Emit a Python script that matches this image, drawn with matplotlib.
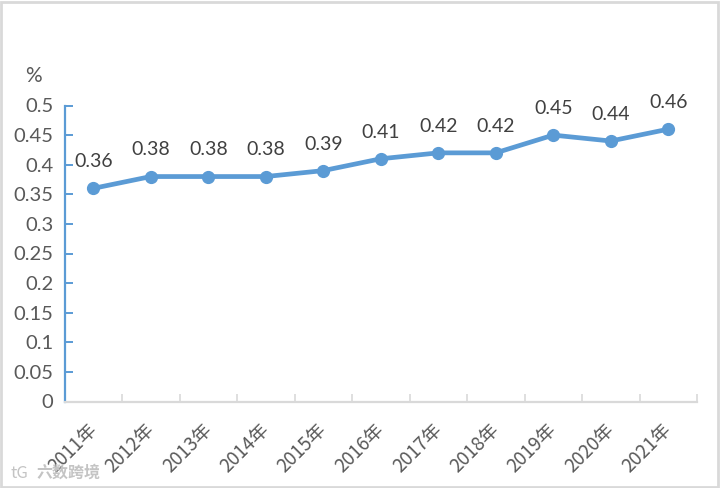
import matplotlib
matplotlib.use('Agg')
import matplotlib.pyplot as plt
from matplotlib.patches import Rectangle

plt.rcParams['font.family'] = ['Noto Sans CJK SC', 'DejaVu Sans']

years = ['2011年', '2012年', '2013年', '2014年', '2015年', '2016年',
         '2017年', '2018年', '2019年', '2020年', '2021年']
values = [0.36, 0.38, 0.38, 0.38, 0.39, 0.41, 0.42, 0.42, 0.45, 0.44, 0.46]
yticks = [0, 0.05, 0.1, 0.15, 0.2, 0.25, 0.3, 0.35, 0.4, 0.45, 0.5]
ylabels = ['0', '0.05', '0.1', '0.15', '0.2', '0.25', '0.3', '0.35', '0.4', '0.45', '0.5']

BLUE = '#5B9BD5'
TEXT = '#595959'
GREY = '#D9D9D9'
W, H = 720, 488

fig = plt.figure(figsize=(W / 100, H / 100), dpi=100)
ax = fig.add_axes([64.5 / W, 1 - 401.5 / H, (697 - 64.5) / W, 296 / H])

# outer frame of the screenshot
fig.add_artist(Rectangle((1 / W, 1 / H), 717 / W, 485 / H, transform=fig.transFigure,
                         fill=False, edgecolor=GREY, linewidth=2))

x = list(range(len(years)))
ax.plot(x, values, color=BLUE, linewidth=3.4, marker='o', markersize=8.5, clip_on=False)

for i in x:
    ax.annotate(f'{values[i]:.2f}', (i, values[i]), xytext=(0, 13), textcoords='offset points',
                ha='center', va='bottom', fontsize=14, color='#404040', family='Lato')

ax.set_xlim(-0.5, len(years) - 0.5)
ax.set_ylim(0, 0.5)

for s in ['top', 'right']:
    ax.spines[s].set_visible(False)
ax.spines['left'].set_color(BLUE)
ax.spines['left'].set_linewidth(1.6)
ax.spines['bottom'].set_color(GREY)
ax.spines['bottom'].set_linewidth(1.6)

ax.set_yticks(yticks)
ax.set_yticklabels(ylabels, family='Lato')
ax.tick_params(axis='y', direction='in', length=6, width=1.4, color=BLUE, labelsize=14.5,
               labelcolor=TEXT, pad=8)

# ticks sit between the categories
ax.set_xticks([i - 0.5 for i in x] + [len(years) - 0.5])
ax.tick_params(axis='x', direction='in', length=6, width=1.2, color=GREY, labelbottom=False)
for i in x:
    ax.annotate(years[i], (i, 0), xytext=(-5, -13), textcoords='offset points', rotation=45,
                rotation_mode='anchor', ha='right', va='top', fontsize=13.5, color=TEXT,
                annotation_clip=False)

fig.text(33 / W, 1 - 76 / H, '%', fontsize=15, color=TEXT, ha='center', va='center',
         family='Lato')

# watermark
fig.text(36 / W, 1 - 473 / H, '六数跨境', fontsize=11.5, color='#C4C4C4', ha='left', va='center',
         fontweight='bold')
fig.text(19 / W, 1 - 473 / H, 'tG', fontsize=12, color='#C4C4C4', ha='center', va='center')

fig.savefig('out.png', dpi=100)
